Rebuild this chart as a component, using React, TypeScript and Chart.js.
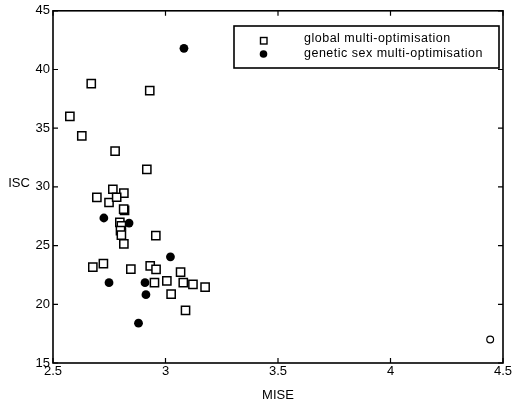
import React, { useEffect, useRef } from 'react';
import { Chart, registerables } from 'chart.js';

Chart.register(...registerables);

const FONT = '"Liberation Sans", Arial, Helvetica, sans-serif';

// global multi-optimisation (open squares)
const globalMISE = [
  2.575, 2.67, 2.628, 2.776, 2.93, 2.917, 2.695, 2.766, 2.815, 2.749, 2.783,
  2.818, 2.814, 2.797, 2.804, 2.8, 2.804, 2.815, 2.957, 2.677, 2.724, 2.846,
  2.932, 2.958, 3.067, 2.951, 3.006, 3.079, 3.122, 3.025, 3.089, 3.176,
];
const globalISC = [
  36.0, 38.8, 34.35, 33.05, 38.2, 31.5, 29.1, 29.8, 29.47, 28.67, 29.12,
  28.0, 28.1, 26.97, 26.69, 26.27, 25.9, 25.14, 25.85, 23.16, 23.47, 22.99,
  23.28, 22.97, 22.74, 21.84, 22.0, 21.84, 21.69, 20.87, 19.49, 21.47,
];

// genetic sex multi-optimisation (filled circles)
const geneticMISE = [3.082, 2.726, 2.838, 2.8, 3.022, 2.749, 2.909, 2.913, 2.88];
const geneticISC = [41.8, 27.35, 26.92, 26.95, 24.04, 21.84, 21.84, 20.82, 18.39];

// lone open marker
const otherMISE = [4.443];
const otherISC = [17.0];

const xTicks = [2.5, 3, 3.5, 4, 4.5];
const yTicks = [15, 20, 25, 30, 35, 40, 45];
const legendLabels = ['global multi-optimisation', 'genetic sex multi-optimisation'];
const xTitle = 'MISE';
const yTitle = 'ISC';

const toPoints = (xs: number[], ys: number[]) => xs.map((x, i) => ({ x, y: ys[i] }));

export default function App() {
  const ref = useRef<HTMLCanvasElement>(null);

  useEffect(() => {
    if (!ref.current) return;

    const framePlugin = {
      id: 'frame',
      afterDraw(chart: any) {
        const { ctx, chartArea: a, scales } = chart;
        const xs = scales.x;
        const ys = scales.y;
        ctx.save();
        ctx.strokeStyle = '#000';
        ctx.lineWidth = 1.6;
        ctx.strokeRect(a.left, a.top, a.right - a.left, a.bottom - a.top);
        const tl = 5;
        ctx.lineWidth = 1.2;
        ctx.beginPath();
        xTicks.forEach((v) => {
          const px = xs.getPixelForValue(v);
          ctx.moveTo(px, a.bottom);
          ctx.lineTo(px, a.bottom - tl);
          ctx.moveTo(px, a.top);
          ctx.lineTo(px, a.top + tl);
        });
        yTicks.forEach((v) => {
          const py = ys.getPixelForValue(v);
          ctx.moveTo(a.left, py);
          ctx.lineTo(a.left + tl, py);
          ctx.moveTo(a.right, py);
          ctx.lineTo(a.right - tl, py);
        });
        ctx.stroke();

        // axis titles
        ctx.fillStyle = '#000';
        ctx.font = `13px ${FONT}`;
        ctx.textAlign = 'center';
        ctx.textBaseline = 'middle';
        ctx.fillText(xTitle, (a.left + a.right) / 2, 395);
        ctx.fillText(yTitle, 19, 183);

        // legend
        const bx = 234, by = 26, bw = 265, bh = 42;
        ctx.fillStyle = '#fff';
        ctx.fillRect(bx, by, bw, bh);
        ctx.lineWidth = 1.6;
        ctx.strokeStyle = '#000';
        ctx.strokeRect(bx, by, bw, bh);
        // square marker
        ctx.lineWidth = 1.4;
        ctx.strokeRect(260.5, 37.5, 6.5, 6.5);
        // circle marker
        ctx.fillStyle = '#000';
        ctx.beginPath();
        ctx.arc(263.5, 54, 3.8, 0, Math.PI * 2);
        ctx.fill();
        ctx.font = `12.5px ${FONT}`;
        try {
          (ctx as any).letterSpacing = '0.5px';
        } catch (e) {}
        ctx.textAlign = 'left';
        ctx.textBaseline = 'middle';
        ctx.fillText(legendLabels[0], 304, 38.5);
        ctx.fillText(legendLabels[1], 304, 53.5);
        ctx.restore();
      },
    };

    const tickFont = { family: FONT, size: 13 };

    const chart = new Chart(ref.current, {
      type: 'scatter',
      data: {
        datasets: [
          {
            label: legendLabels[0],
            data: toPoints(globalMISE, globalISC),
            pointStyle: 'rect',
            radius: 5.8,
            backgroundColor: '#fff',
            borderColor: '#000',
            borderWidth: 1.5,
          },
          {
            label: legendLabels[1],
            data: toPoints(geneticMISE, geneticISC),
            pointStyle: 'circle',
            radius: 4.4,
            backgroundColor: '#000',
            borderColor: '#000',
            borderWidth: 0,
          },
          {
            label: 'other',
            data: toPoints(otherMISE, otherISC),
            pointStyle: 'circle',
            radius: 3.4,
            backgroundColor: 'rgba(0,0,0,0)',
            borderColor: '#000',
            borderWidth: 1.2,
          },
        ],
      },
      options: {
        responsive: false,
        animation: false,
        devicePixelRatio: 1,
        layout: { padding: { left: 0, top: 9, right: 11, bottom: 0 } },
        plugins: {
          legend: { display: false },
          tooltip: { enabled: false },
        },
        scales: {
          x: {
            type: 'linear',
            min: 2.5,
            max: 4.5,
            afterBuildTicks: (s: any) => {
              s.ticks = xTicks.map((v) => ({ value: v }));
            },
            ticks: {
              color: '#000',
              font: tickFont,
              padding: 1,
              maxRotation: 0,
              autoSkip: false,
              callback: (v: any) => String(v),
            },
            grid: { display: false, drawTicks: false },
            border: { display: false },
            afterFit: (s: any) => {
              s.height = 45;
            },
          },
          y: {
            type: 'linear',
            min: 15,
            max: 45,
            afterBuildTicks: (s: any) => {
              s.ticks = yTicks.map((v) => ({ value: v }));
            },
            ticks: {
              color: '#000',
              font: tickFont,
              padding: 3,
              autoSkip: false,
              callback: (v: any) => String(v),
            },
            grid: { display: false, drawTicks: false },
            border: { display: false },
            afterFit: (s: any) => {
              s.width = 53;
            },
          },
        },
      },
      plugins: [framePlugin],
    });

    return () => chart.destroy();
  }, []);

  return (
    <div style={{ position: 'fixed', left: 0, top: 0, width: 514, height: 408, background: '#fff' }}>
      <canvas ref={ref} width={514} height={408} style={{ display: 'block' }} />
    </div>
  );
}
